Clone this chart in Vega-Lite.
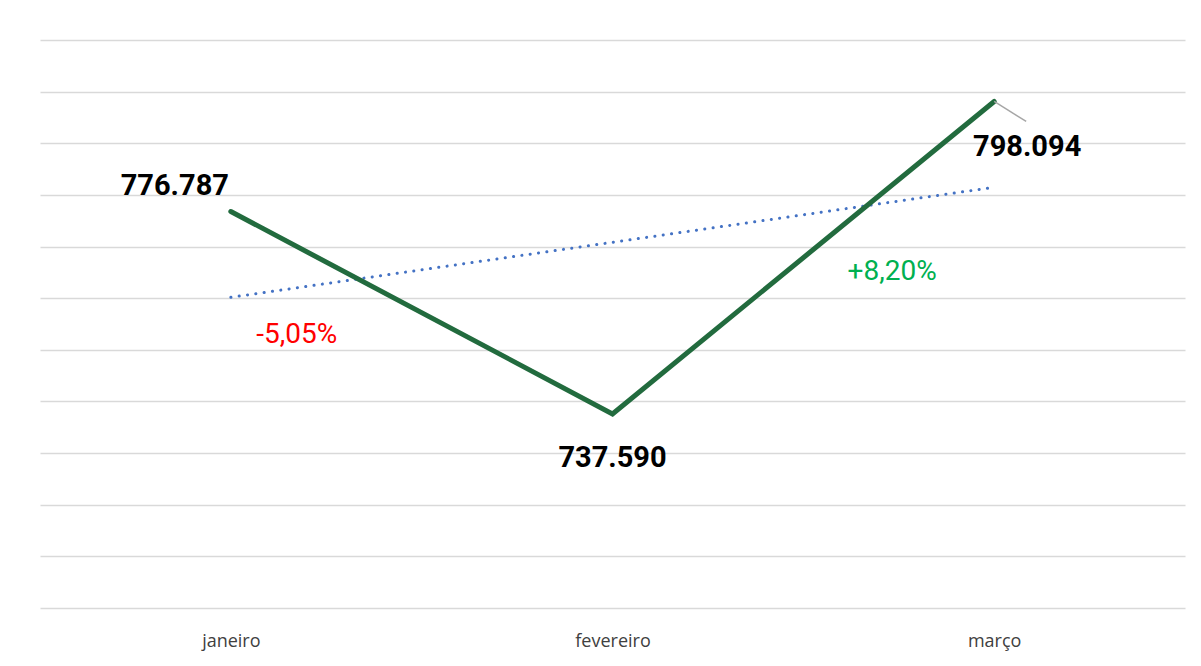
{
  "$schema": "https://vega.github.io/schema/vega-lite/v6.json",
  "width": 1145,
  "height": 568,
  "autosize": {"type": "none"},
  "padding": {"left": 40, "top": 40, "right": 16, "bottom": 58},
  "background": "white",
  "config": {"view": {"stroke": null}},
  "datasets": {
    "meses": [
      {"mes": "janeiro", "valor": 776787, "tendencia": 760170, "rotulo": "776.787"},
      {"mes": "fevereiro", "valor": 737590, "tendencia": 770824, "rotulo": "737.590"},
      {"mes": "março", "valor": 798094, "tendencia": 781477, "rotulo": "798.094"}
    ],
    "variacoes": [
      {"mes": "janeiro", "pos": 752800, "texto": "-5,05%"},
      {"mes": "março", "pos": 765100, "texto": "+8,20%"}
    ]
  },
  "data": {"name": "meses"},
  "encoding": {
    "x": {
      "field": "mes", "type": "nominal", "sort": ["janeiro", "fevereiro", "março"],
      "scale": {"type": "point", "padding": 0.5},
      "axis": {"title": null, "domain": false, "ticks": false, "labelAngle": 0, "labelFont": "Open Sans", "labelFontSize": 18, "labelColor": "#404040", "labelPadding": 24}
    }
  },
  "layer": [
    {
      "mark": {"type": "line", "color": "#4472C4", "strokeWidth": 3, "strokeDash": [0.1, 8.3], "strokeCap": "round"},
      "encoding": {
        "y": {"field": "tendencia", "type": "quantitative", "scale": {"domain": [700000, 810000], "nice": false, "zero": false},
          "axis": {"title": null, "labels": false, "ticks": false, "domain": false, "grid": true, "gridColor": "#D9D9D9", "gridWidth": 1.6, "values": [700000, 710000, 720000, 730000, 740000, 750000, 760000, 770000, 780000, 790000, 800000, 810000]}}
      }
    },
    {
      "mark": {"type": "line", "color": "#226B3E", "strokeWidth": 5, "strokeCap": "round", "strokeJoin": "miter"},
      "encoding": {"y": {"field": "valor", "type": "quantitative"}}
    },
    {
      "transform": [{"filter": "datum.mes === 'março'"}],
      "mark": {"type": "rule", "color": "#A6A6A6", "strokeWidth": 1.5, "x2Offset": 32, "y2Offset": 20},
      "encoding": {"y": {"field": "valor", "type": "quantitative"}, "x2": {"field": "mes"}, "y2": {"field": "valor"}}
    },
    {
      "transform": [{"filter": "datum.mes === 'janeiro'"}],
      "mark": {"type": "text", "font": "Roboto", "fontWeight": "bold", "fontSize": 29, "color": "#000000", "dx": -56, "dy": -25, "baseline": "middle"},
      "encoding": {"y": {"field": "valor", "type": "quantitative"}, "text": {"field": "rotulo"}}
    },
    {
      "transform": [{"filter": "datum.mes === 'fevereiro'"}],
      "mark": {"type": "text", "font": "Roboto", "fontWeight": "bold", "fontSize": 29, "color": "#000000", "dx": 0, "dy": 44, "baseline": "middle"},
      "encoding": {"y": {"field": "valor", "type": "quantitative"}, "text": {"field": "rotulo"}}
    },
    {
      "transform": [{"filter": "datum.mes === 'março'"}],
      "mark": {"type": "text", "font": "Roboto", "fontWeight": "bold", "fontSize": 29, "color": "#000000", "dx": 33, "dy": 46, "baseline": "middle"},
      "encoding": {"y": {"field": "valor", "type": "quantitative"}, "text": {"field": "rotulo"}}
    },
    {
      "data": {"name": "variacoes"},
      "transform": [{"filter": "datum.mes === 'janeiro'"}],
      "mark": {"type": "text", "font": "Roboto", "fontSize": 28, "color": "#FF0000", "dx": 66, "baseline": "middle"},
      "encoding": {"y": {"field": "pos", "type": "quantitative"}, "text": {"field": "texto"}}
    },
    {
      "data": {"name": "variacoes"},
      "transform": [{"filter": "datum.mes === 'março'"}],
      "mark": {"type": "text", "font": "Roboto", "fontSize": 28, "color": "#00B050", "dx": -102, "baseline": "middle"},
      "encoding": {"y": {"field": "pos", "type": "quantitative"}, "text": {"field": "texto"}}
    }
  ]
}
